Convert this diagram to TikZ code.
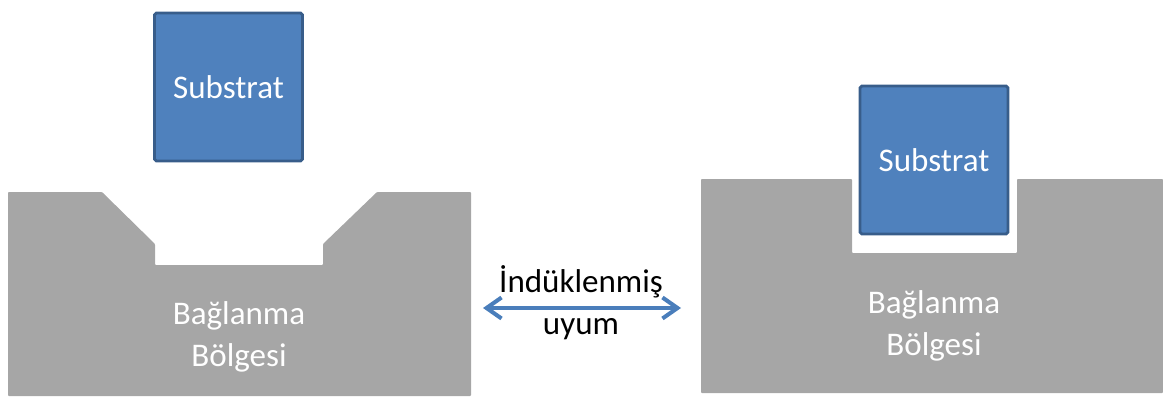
\documentclass[tikz,border=0pt]{standalone}
\usepackage{fontspec}
\setmainfont{Carlito}
\usepackage{tikz}
\usetikzlibrary{arrows.meta, positioning}
\definecolor{subfill}{RGB}{79,129,189}
\definecolor{subedge}{RGB}{56,93,138}
\definecolor{sitegray}{RGB}{166,166,166}
\definecolor{arrowblue}{RGB}{74,126,187}

\begin{document}
\begin{tikzpicture}[
  x=0.02cm, y=-0.02cm,
  font=\fontsize{18.8}{24}\selectfont,
  substrat/.style={draw=subedge, fill=subfill, line width=1.6pt,
                   rounded corners=1pt, minimum width=2.96cm,
                   minimum height=2.96cm, inner sep=0pt, text=white},
  site/.style={fill=sitegray, rounded corners=0.5pt},
  sitelabel/.style={text=white, align=center},
  arr/.style={{Straight Barb[length=0.3cm, width=0.42cm]}-{Straight Barb[length=0.3cm, width=0.42cm]},
              line width=2.3pt, arrowblue}
]
  \useasboundingbox (0,0) rectangle (1163,396);

  % left: binding site before fitting
  \fill[site] (8,192) -- (102,192) -- (155,244) -- (155,265) -- (323,265)
    -- (323,244) -- (377,192) -- (471,192) -- (471,396) -- (8,396) -- cycle;
  \node[substrat] (s1) at (228.5,87) {Substrat};
  \node[sitelabel] (b1) at (239,337) {Bağlanma\\Bölgesi};

  % right: binding site after fitting
  \fill[site] (701,179) -- (852,179) -- (852,253) -- (1017,253) -- (1017,179)
    -- (1163,179) -- (1163,393) -- (701,393) -- cycle;
  \node[substrat] (s2) at (934,160) {Substrat};
  \node[sitelabel] (b2) at (934,326) {Bağlanma\\Bölgesi};

  \node[align=center] (fit) at (581,303) {İndüklenmiş\\uyum};
  \coordinate (al) at (483,308);
  \coordinate (ar) at (681,308);
  \draw[arr] (al) -- (ar);
\end{tikzpicture}
\end{document}
